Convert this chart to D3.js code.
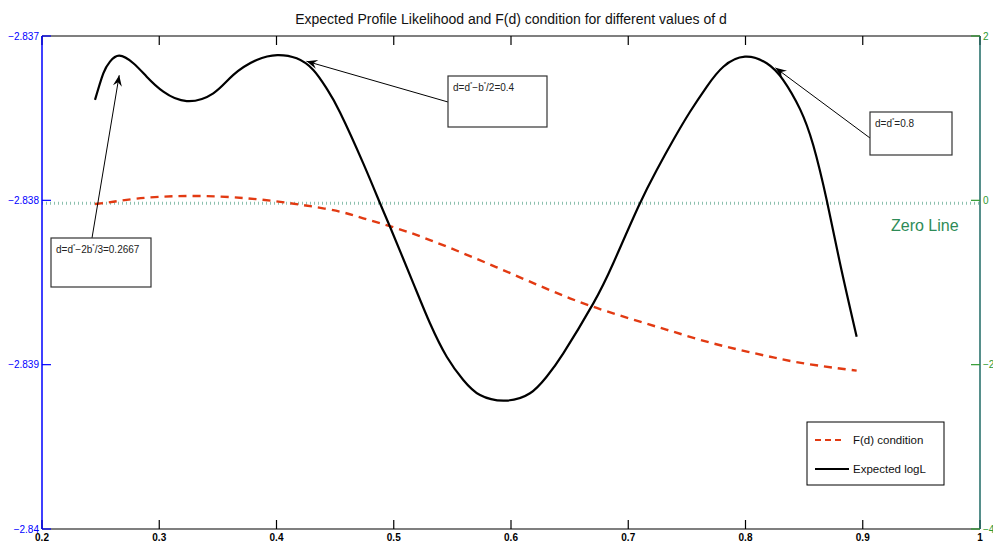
<!DOCTYPE html>
<html>
<head>
<meta charset="utf-8">
<script src="https://cdn.jsdelivr.net/npm/d3@7"></script>
<style>
  html, body { margin: 0; padding: 0; background: #fff; }
  svg { display: block; font-family: "Liberation Sans", Arial, Helvetica, sans-serif; }
</style>
</head>
<body>
<svg id="chart" width="993" height="544"></svg>
<script>
// Expected log-likelihood (left axis) as a function of d
const logLD = [0.2452, 0.2523, 0.258, 0.2659, 0.2779, 0.2893, 0.3035, 0.3234, 0.3461, 0.3632,
  0.3831, 0.4007, 0.4172, 0.4314, 0.4428, 0.4542, 0.474, 0.4883, 0.4968,
  0.5167, 0.5309, 0.5452, 0.5593, 0.5736, 0.5949, 0.6162, 0.6304, 0.6446, 0.6702,
  0.6872, 0.7086, 0.7243, 0.7384, 0.7527, 0.7669, 0.7811, 0.7996, 0.8181, 0.8322,
  0.8465, 0.8578, 0.8693, 0.8806, 0.8948];
const logLValues = [-2.837389, -2.837227, -2.837156, -2.837120, -2.837166, -2.837248, -2.837339, -2.837396, -2.837349, -2.837237,
  -2.837146, -2.837116, -2.837136, -2.837207, -2.837320, -2.837465, -2.837775, -2.838018, -2.838161,
  -2.838505, -2.838748, -2.838952, -2.839093, -2.839185, -2.839219, -2.839174, -2.839073, -2.838931, -2.838627,
  -2.838383, -2.838039, -2.837815, -2.837633, -2.837461, -2.837309, -2.837187, -2.837126, -2.837166, -2.837268,
  -2.837445, -2.837665, -2.838000, -2.838383, -2.838830];

// F(d) condition (right axis)
const condD = [0.2452, 0.2608, 0.2893, 0.3319, 0.3746, 0.4087, 0.4314, 0.4542, 0.474, 0.5025,
  0.5309, 0.5593, 0.5878, 0.6162, 0.6446, 0.6731, 0.71, 0.7384, 0.7669, 0.7953,
  0.8237, 0.8522, 0.8948];
const condValues = [-0.045, -0.017, 0.032, 0.053, 0.025, -0.029, -0.077, -0.138, -0.219, -0.340,
  -0.483, -0.645, -0.815, -0.990, -1.160, -1.310, -1.477, -1.599, -1.720, -1.821,
  -1.912, -1.990, -2.073];

const zeroLine = 0;

const xTicks = [0.2, 0.3, 0.4, 0.5, 0.6, 0.7, 0.8, 0.9, 1];
const xTickLabels = ["0.2", "0.3", "0.4", "0.5", "0.6", "0.7", "0.8", "0.9", "1"];
const leftTicks = [-2.837, -2.838, -2.839, -2.84];
const leftTickLabels = ["\u22122.837", "\u22122.838", "\u22122.839", "\u22122.84"];
const rightTicks = [2, 0, -2, -4];
const rightTickLabels = ["2", "0", "\u22122", "\u22124"];

// Annotated points: label parts [text, isSuperscript]
const notes = [
  { d: 0.2667, parts: [["d=d", 0], ["*", 1], ["\u22122b", 0], ["*", 1], ["/3=0.2667", 0]] },
  { d: 0.4, parts: [["d=d", 0], ["*", 1], ["\u2212b", 0], ["*", 1], ["/2=0.4", 0]] },
  { d: 0.8, parts: [["d=d", 0], ["*", 1], ["=0.8", 0]] }
];

const svg = d3.select("#chart");
const m = { left: 42, top: 36, right: 13, bottom: 15 };
const W = 993 - m.left - m.right, H = 544 - m.top - m.bottom;

const x = d3.scaleLinear().domain([0.2, 1]).range([m.left, m.left + W]);
const yL = d3.scaleLinear().domain([-2.84, -2.837]).range([m.top + H, m.top]);
const yR = d3.scaleLinear().domain([-4, 2]).range([m.top + H, m.top]);

const blue = "#0000ff", green = "#2f9a2f", teal = "#1e6a64";

// zero line
svg.append("line")
  .attr("x1", x(0.2)).attr("x2", x(1))
  .attr("y1", yR(zeroLine) + 3).attr("y2", yR(zeroLine) + 3)
  .attr("stroke", "#8cc0ae").attr("stroke-width", 3)
  .attr("stroke-dasharray", "1,3");

// F(d) condition
svg.append("path")
  .datum(condD.map((d, i) => [d, condValues[i]]))
  .attr("fill", "none").attr("stroke", "#e23a12").attr("stroke-width", 2.4)
  .attr("stroke-dasharray", "8,6")
  .attr("d", d3.line().x(p => x(p[0])).y(p => yR(p[1])).curve(d3.curveNatural));

// Expected logL
const lineL = d3.line().x(p => x(p[0])).y(p => yL(p[1])).curve(d3.curveNatural);
const logLPts = logLD.map((d, i) => [d, logLValues[i]]);
svg.append("path")
  .datum(logLPts)
  .attr("fill", "none").attr("stroke", "#000").attr("stroke-width", 2.2)
  .attr("d", lineL);

// axes box
const g = svg.append("g");
g.append("line").attr("x1", x(0.2)).attr("x2", x(1)).attr("y1", m.top).attr("y2", m.top)
  .attr("stroke", "#000").attr("stroke-width", 1.2);
g.append("line").attr("x1", x(0.2)).attr("x2", x(1)).attr("y1", m.top + H).attr("y2", m.top + H)
  .attr("stroke", "#000").attr("stroke-width", 1.2);

// x ticks (top and bottom, inward)
xTicks.forEach((t, i) => {
  g.append("line").attr("x1", x(t)).attr("x2", x(t)).attr("y1", m.top).attr("y2", m.top + 9)
    .attr("stroke", "#000").attr("stroke-width", 1.2);
  g.append("line").attr("x1", x(t)).attr("x2", x(t)).attr("y1", m.top + H).attr("y2", m.top + H - 9)
    .attr("stroke", "#000").attr("stroke-width", 1.2);
  g.append("text").attr("x", x(t)).attr("y", m.top + H + 12)
    .attr("text-anchor", "middle").attr("font-size", 10).attr("font-weight", "bold")
    .text(xTickLabels[i]);
});

// left axis
g.append("line").attr("x1", x(0.2)).attr("x2", x(0.2)).attr("y1", m.top).attr("y2", m.top + H)
  .attr("stroke", blue).attr("stroke-width", 1.5);
leftTicks.forEach((t, i) => {
  g.append("line").attr("x1", x(0.2)).attr("x2", x(0.2) + 9).attr("y1", yL(t)).attr("y2", yL(t))
    .attr("stroke", blue).attr("stroke-width", 1.2);
  g.append("text").attr("x", x(0.2) - 3).attr("y", yL(t) + 3.5)
    .attr("text-anchor", "end").attr("font-size", 10).attr("fill", blue)
    .text(leftTickLabels[i]);
});

// right axis
g.append("line").attr("x1", x(1)).attr("x2", x(1)).attr("y1", m.top).attr("y2", m.top + H)
  .attr("stroke", teal).attr("stroke-width", 1.5);
rightTicks.forEach((t, i) => {
  g.append("line").attr("x1", x(1)).attr("x2", x(1) - 9).attr("y1", yR(t)).attr("y2", yR(t))
    .attr("stroke", green).attr("stroke-width", 1.2);
  g.append("text").attr("x", x(1) + 3).attr("y", yR(t) + 3.5)
    .attr("text-anchor", "start").attr("font-size", 10).attr("fill", green)
    .text(rightTickLabels[i]);
});

// title
svg.append("text").attr("x", (x(0.2) + x(1)) / 2).attr("y", 24)
  .attr("text-anchor", "middle").attr("font-size", 14).attr("fill", "#111")
  .text("Expected Profile Likelihood and F(d) condition for different values of d");

// zero line label
svg.append("text").attr("x", 891).attr("y", 231)
  .attr("font-size", 16).attr("fill", "#2e8b57").text("Zero Line");

// annotation boxes with arrows
const boxes = [
  { x: 51, y: 238, w: 100, h: 49, tx: 56, ty: 253, sx: 92, sy: 238 },
  { x: 448, y: 76, w: 99, h: 51, tx: 453, ty: 91, sx: 448, sy: 102 },
  { x: 870, y: 112, w: 82, h: 43, tx: 875, ty: 127, sx: 870, sy: 138 }
];
const tipOffsets = [[-1, 19], [30, 6], [30, 11]];

function lerpLogL(d) {
  for (let i = 1; i < logLD.length; i++) {
    if (d <= logLD[i]) {
      const t = (d - logLD[i - 1]) / (logLD[i] - logLD[i - 1]);
      return logLValues[i - 1] + t * (logLValues[i] - logLValues[i - 1]);
    }
  }
  return logLValues[logLValues.length - 1];
}

notes.forEach((n, i) => {
  const b = boxes[i];
  const tipX = x(n.d) + tipOffsets[i][0];
  const tipY = yL(lerpLogL(n.d)) + tipOffsets[i][1];
  svg.append("line").attr("x1", b.sx).attr("y1", b.sy).attr("x2", tipX).attr("y2", tipY)
    .attr("stroke", "#000").attr("stroke-width", 1);
  // arrowhead
  const ang = Math.atan2(tipY - b.sy, tipX - b.sx);
  const L = 11, Wd = 4.5, back = 7;
  const bx = tipX - L * Math.cos(ang), by = tipY - L * Math.sin(ang);
  const nx = -Math.sin(ang), ny = Math.cos(ang);
  const cx = tipX - back * Math.cos(ang), cy = tipY - back * Math.sin(ang);
  svg.append("path")
    .attr("d", `M${tipX},${tipY} L${bx + nx * Wd},${by + ny * Wd} L${cx},${cy} L${bx - nx * Wd},${by - ny * Wd} Z`)
    .attr("fill", "#000");
  svg.append("rect").attr("x", b.x).attr("y", b.y).attr("width", b.w).attr("height", b.h)
    .attr("fill", "#fff").attr("stroke", "#333").attr("stroke-width", 1.2);
  const t = svg.append("text").attr("x", b.tx).attr("y", b.ty).attr("font-size", 10).attr("fill", "#222");
  let prev = 0;
  n.parts.forEach(p => {
    const target = p[1] ? -5 : 0;
    t.append("tspan")
      .attr("font-size", p[1] ? 6 : 10)
      .attr("dy", target - prev)
      .text(p[0]);
    prev = target;
  });
});

// legend
const lg = svg.append("g");
lg.append("rect").attr("x", 807).attr("y", 422).attr("width", 137).attr("height", 63)
  .attr("fill", "#fff").attr("stroke", "#000").attr("stroke-width", 1);
lg.append("line").attr("x1", 815).attr("x2", 845).attr("y1", 440).attr("y2", 440)
  .attr("stroke", "#e23a12").attr("stroke-width", 2).attr("stroke-dasharray", "6,4");
lg.append("text").attr("x", 853).attr("y", 444).attr("font-size", 11.5).attr("fill", "#111").text("F(d) condition");
lg.append("line").attr("x1", 815).attr("x2", 849).attr("y1", 469).attr("y2", 469)
  .attr("stroke", "#000").attr("stroke-width", 2);
lg.append("text").attr("x", 853).attr("y", 473).attr("font-size", 11.5).attr("fill", "#111").text("Expected logL");
</script>
</body>
</html>
